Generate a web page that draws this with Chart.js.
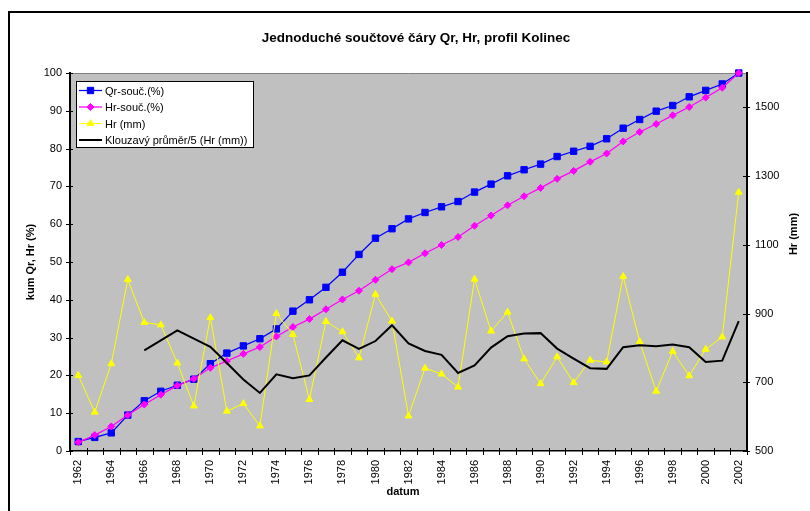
<!DOCTYPE html>
<html>
<head>
<meta charset="utf-8">
<script src="https://cdn.jsdelivr.net/npm/chart.js@4/dist/chart.umd.min.js"></script>
<style>
  html, body { margin: 0; padding: 0; background: #fff; overflow: hidden; }
  #wrap { position: relative; width: 810px; height: 511px; overflow: hidden; }
  #frame { position: absolute; left: 8px; top: 11px; width: 900px; height: 600px; border: 2px solid #000; box-sizing: border-box; pointer-events: none; }
  canvas { position: absolute; left: 0; top: 0; }
</style>
</head>
<body>
<div id="wrap">
  <canvas id="c" width="810" height="511"></canvas>
  <div id="frame"></div>
</div>
<script>
// Years of the series
const years = ['1962','1963','1964','1965','1966','1967','1968','1969','1970','1971','1972','1973','1974','1975','1976','1977','1978','1979','1980','1981','1982','1983','1984','1985','1986','1987','1988','1989','1990','1991','1992','1993','1994','1995','1996','1997','1998','1999','2000','2001','2002'];

// Cumulative runoff Qr (%)
const qrSum = [2.5,3.6,4.8,9.5,13.3,15.8,17.4,19.0,23.1,25.9,27.8,29.7,32.3,37.0,40.0,43.3,47.3,52.0,56.3,58.8,61.4,63.1,64.6,66.0,68.5,70.6,72.8,74.4,75.9,77.9,79.3,80.6,82.6,85.4,87.7,89.9,91.4,93.7,95.4,97.1,100];

// Cumulative precipitation Hr (%)
const hrSum = [2.3,4.2,6.5,9.5,12.3,14.9,17.3,19.1,22.0,23.8,25.7,27.5,30.3,32.8,34.9,37.5,40.1,42.4,45.3,48.1,49.9,52.3,54.5,56.6,59.6,62.3,65.0,67.4,69.6,72.0,74.1,76.5,78.7,81.9,84.4,86.5,88.8,91.0,93.5,96.1,100];

// Annual precipitation Hr (mm)
const hrMm = [720,613,754,999,874,867,756,631,888,616,638,573,900,839,650,877,847,771,956,878,602,741,724,686,1000,849,904,768,696,774,699,764,759,1008,818,674,790,719,796,832,1253];

// 5-year moving average of Hr (mm)
const hrAvg5 = [null,null,null,null,793,822,851,827,803,756,708,669,723,712,720,772,822,797,820,866,813,791,780,727,749,801,834,842,843,798,769,741,739,802,808,805,810,802,759,763,878];

// Secondary axis tick values (mm)
const rightTicks = [500,700,900,1100,1300,1500];

const FONT = 'Liberation Sans, Arial, sans-serif';
const TITLE = 'Jednoduché součtové čáry Qr, Hr, profil Kolinec';

// Plot background, frame line, crossing tick marks, titles and legend
const decor = {
  id: 'decor',
  beforeDraw(chart) {
    const {ctx, chartArea: a} = chart;
    ctx.save();
    ctx.fillStyle = '#C0C0C0';
    ctx.fillRect(a.left, a.top, a.right - a.left, a.bottom - a.top);
    ctx.strokeStyle = '#808080';
    ctx.lineWidth = 1;
    ctx.beginPath();
    ctx.moveTo(a.left, a.top + 0.5);
    ctx.lineTo(a.right, a.top + 0.5);
    ctx.stroke();
    ctx.restore();
  },
  afterDraw(chart) {
    const {ctx, chartArea: a, scales} = chart;
    ctx.save();
    ctx.strokeStyle = '#000';
    ctx.lineWidth = 1;
    // x ticks at category boundaries
    const xs = scales.x;
    const half = (xs.getPixelForValue(1) - xs.getPixelForValue(0)) / 2;
    ctx.beginPath();
    for (let i = 0; i <= years.length; i++) {
      const px = Math.round(xs.getPixelForValue(i) - half) + 0.5;
      ctx.moveTo(px, a.bottom - 3);
      ctx.lineTo(px, a.bottom + 4);
    }
    // left ticks
    scales.y.ticks.forEach(t => {
      const py = Math.round(scales.y.getPixelForValue(t.value)) + 0.5;
      ctx.moveTo(a.left - 4, py);
      ctx.lineTo(a.left + 3, py);
    });
    // right ticks
    scales.y2.ticks.forEach(t => {
      const py = Math.round(scales.y2.getPixelForValue(t.value)) + 0.5;
      ctx.moveTo(a.right - 4, py);
      ctx.lineTo(a.right + 3, py);
    });
    ctx.stroke();

    // chart title
    ctx.fillStyle = '#000';
    ctx.textAlign = 'center';
    ctx.textBaseline = 'middle';
    ctx.font = 'bold 13.5px ' + FONT;
    ctx.fillText(TITLE, 416, 38);

    // axis titles
    ctx.font = 'bold 11px ' + FONT;
    ctx.fillText('datum', 403, 492);
    ctx.save();
    ctx.translate(31, (a.top + a.bottom) / 2);
    ctx.rotate(-Math.PI / 2);
    ctx.fillText('kum Qr, Hr (%)', 0, 0);
    ctx.restore();
    ctx.save();
    ctx.translate(794, 234);
    ctx.rotate(-Math.PI / 2);
    ctx.fillText('Hr (mm)', 0, 0);
    ctx.restore();

    // legend box
    const lx = a.left + 6, ly = a.top + 8, lw = 177, lh = 66;
    ctx.fillStyle = '#fff';
    ctx.fillRect(lx, ly, lw, lh);
    ctx.strokeStyle = '#000';
    ctx.lineWidth = 1;
    ctx.strokeRect(lx + 0.5, ly + 0.5, lw, lh);
    ctx.font = '11px ' + FONT;
    ctx.textAlign = 'left';
    chart.data.datasets.forEach((ds, i) => {
      const cy = ly + 9.5 + i * 16.5;
      const x0 = lx + 3, x1 = lx + 26;
      ctx.strokeStyle = ds.borderColor;
      ctx.lineWidth = ds.borderWidth;
      ctx.beginPath();
      ctx.moveTo(x0, cy);
      ctx.lineTo(x1, cy);
      ctx.stroke();
      if (ds.pointRadius > 0) {
        ctx.fillStyle = ds.pointBackgroundColor;
        ctx.strokeStyle = ds.pointBorderColor;
        ctx.lineWidth = 1;
        Chart.helpers.drawPoint(ctx, {
          pointStyle: ds.pointStyle, radius: ds.pointRadius, rotation: 0, borderWidth: 1
        }, (x0 + x1) / 2, cy);
      }
      ctx.fillStyle = '#000';
      ctx.fillText(ds.label, lx + 29, cy + 1);
    });
    ctx.restore();
  }
};

new Chart(document.getElementById('c'), {
  type: 'line',
  data: {
    labels: years,
    datasets: [
      {
        label: 'Qr-souč.(%)', data: qrSum, yAxisID: 'y', order: 4,
        borderColor: '#0000FF', backgroundColor: '#0000FF', borderWidth: 1.25,
        pointStyle: 'rect', pointRadius: 4.5, pointBorderWidth: 1,
        pointBackgroundColor: '#0000FF', pointBorderColor: '#0000FF', clip: false
      },
      {
        label: 'Hr-souč.(%)', data: hrSum, yAxisID: 'y', order: 3,
        borderColor: '#FF00FF', backgroundColor: '#FF00FF', borderWidth: 1.25,
        pointStyle: 'rectRot', pointRadius: 3.5, pointBorderWidth: 1,
        pointBackgroundColor: '#FF00FF', pointBorderColor: '#FF00FF', clip: false
      },
      {
        label: 'Hr (mm)', data: hrMm, yAxisID: 'y2', order: 2,
        borderColor: '#FFFF00', backgroundColor: '#FFFF00', borderWidth: 1,
        pointStyle: 'triangle', pointRadius: 4, pointBorderWidth: 1,
        pointBackgroundColor: '#FFFF00', pointBorderColor: '#FFFF00', clip: false
      },
      {
        label: 'Klouzavý průměr/5 (Hr (mm))', data: hrAvg5, yAxisID: 'y2', order: 1,
        borderColor: '#000000', backgroundColor: '#000000', borderWidth: 2,
        pointRadius: 0, clip: false
      }
    ]
  },
  options: {
    responsive: false,
    animation: false,
    events: [],
    layout: { padding: { top: 73 } },
    elements: { line: { tension: 0 } },
    plugins: {
      legend: { display: false },
      tooltip: { enabled: false },
      title: { display: false }
    },
    scales: {
      x: {
        type: 'category',
        offset: true,
        grid: { display: false, offset: true, drawTicks: false },
        border: { display: true, color: '#000', width: 1.5 },
        ticks: {
          autoSkip: false, maxRotation: 90, minRotation: 90, padding: 9,
          color: '#000', font: { family: FONT, size: 11 },
          callback: (v, i) => (i % 2 === 0 ? years[i] : '')
        },
        afterFit: s => { s.height = 60; }
      },
      y: {
        position: 'left',
        min: 0, max: 100,
        grid: { display: false, drawTicks: false },
        border: { display: true, color: '#000', width: 2 },
        ticks: { stepSize: 10, padding: 8, color: '#000', font: { family: FONT, size: 11 } },
        afterFit: s => { s.width = 70; }
      },
      y2: {
        position: 'right',
        min: 500, max: 1600,
        grid: { display: false, drawTicks: false },
        border: { display: true, color: '#000', width: 2 },
        ticks: {
          padding: 8, color: '#000', font: { family: FONT, size: 11 },
          callback: v => String(v)
        },
        afterBuildTicks: s => { s.ticks = rightTicks.map(v => ({ value: v })); },
        afterFit: s => { s.width = 63; }
      }
    }
  },
  plugins: [decor]
});
</script>
</body>
</html>
